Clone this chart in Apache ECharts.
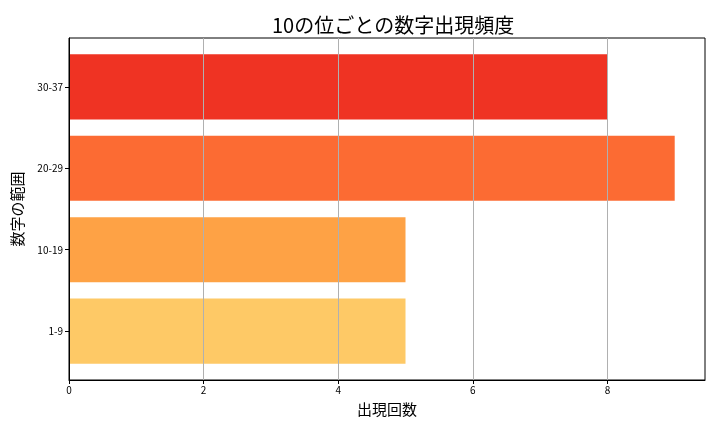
<!DOCTYPE html>
<html><head><meta charset="utf-8">
<script src="https://cdn.jsdelivr.net/npm/echarts@6/dist/echarts.min.js"></script>
<style>html,body{margin:0;padding:0;background:#fff}#c{width:720px;height:432px}</style>
</head><body><div id="c"></div>
<script>
const categories = ['1-9', '10-19', '20-29', '30-37'];
const counts = [5, 5, 9, 8];
const colors = ['#fec966', '#fea245', '#fc6b33', '#ef3323'];
const xTicks = [0, 2, 4, 6, 8];

(function () {
const font = '"Noto Sans CJK JP", "DejaVu Sans", sans-serif';
const chart = echarts.init(document.getElementById('c'), null, {renderer: 'canvas'});
// plot frame: top 38, bottom 380; y-range -0.6..3.6 (4.2 units) -> bands of 1 unit
const plotTop = 38, plotBottom = 380, unit = (plotBottom - plotTop) / 4.2;
chart.setOption({
  animation: false,
  title: {
    text: '10の位ごとの数字出現頻度', left: 267, top: 10,
    textStyle: {fontFamily: font, fontSize: 20, fontWeight: 'normal', color: '#000'}
  },
  grid: [
    {left: 69, right: 15, top: plotTop + 0.1 * unit, bottom: 432 - plotBottom + 0.1 * unit},
    {left: 69, right: 15, top: plotTop, bottom: 432 - plotBottom, show: true, borderColor: '#000', borderWidth: 1, backgroundColor: 'transparent', z: 5}
  ],
  xAxis: [
    {gridIndex: 0, type: 'value', min: 0, max: 9.45, show: false},
    {gridIndex: 1, type: 'value', min: 0, max: 9.45, interval: 2, z: 5,
     axisLine: {show: true, onZero: false, lineStyle: {color: '#000', width: 1}},
     axisTick: {show: true, length: 4, customValues: xTicks, lineStyle: {color: '#000'}},
     axisLabel: {color: '#000', fontFamily: font, fontSize: 10, margin: 5, customValues: xTicks,
       formatter: v => xTicks.indexOf(v) >= 0 ? String(v) : ''},
     splitLine: {show: true, lineStyle: {color: '#b0b0b0', width: 1}},
     name: '出現回数', nameLocation: 'middle', nameGap: 22,
     nameTextStyle: {fontFamily: font, fontSize: 15, color: '#000'}}
  ],
  yAxis: [
    {gridIndex: 0, type: 'category', data: categories,
     axisLine: {show: false},
     axisTick: {show: true, alignWithLabel: true, length: 4, lineStyle: {color: '#000'}},
     axisLabel: {color: '#000', fontFamily: font, fontSize: 10, margin: 6},
     name: '数字の範囲', nameLocation: 'middle', nameGap: 44, nameRotate: 90,
     nameTextStyle: {fontFamily: font, fontSize: 15, color: '#000'}},
    {gridIndex: 1, type: 'value', min: -0.6, max: 3.6, z: 5,
     axisLine: {show: true, onZero: false, lineStyle: {color: '#000', width: 1}},
     axisTick: {show: false}, axisLabel: {show: false}, splitLine: {show: false}}
  ],
  series: [{
    type: 'bar', xAxisIndex: 0, yAxisIndex: 0,
    barWidth: '80%',
    data: counts.map((v, i) => ({value: v, itemStyle: {color: colors[i]}}))
  }]
});
})();
</script></body></html>
